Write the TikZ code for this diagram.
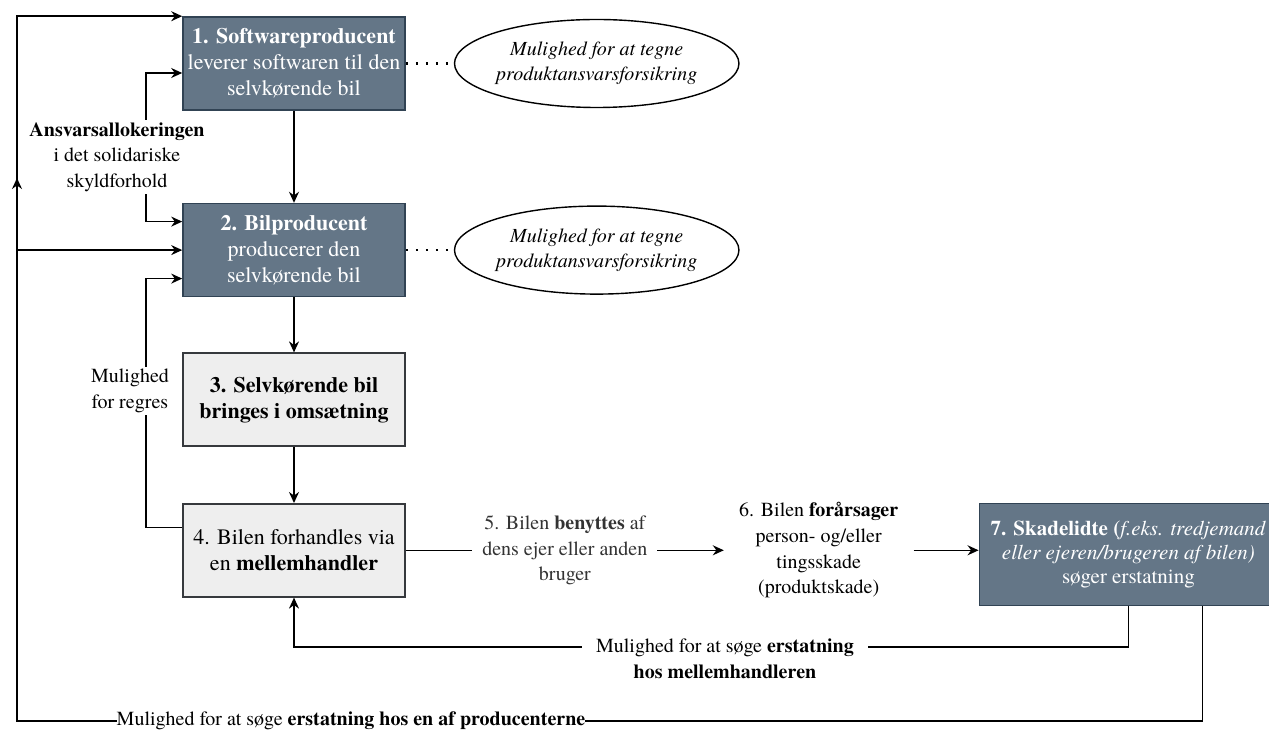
\documentclass[tikz,border=0pt]{standalone}
\usepackage{fontspec}
\setmainfont{texgyretermes}[Extension=.otf, UprightFont=*-regular, BoldFont=*-bold, ItalicFont=*-italic, BoldItalicFont=*-bolditalic]
\usetikzlibrary{shapes.geometric, arrows.meta, positioning, calc}

\definecolor{slatefill}{HTML}{647687}
\definecolor{slateline}{HTML}{314354}
\definecolor{greyfill}{HTML}{EEEEEE}
\definecolor{greyline}{HTML}{36393D}

\begin{document}
\begin{tikzpicture}[
    x=0.5pt, y=-0.5pt,
    font=\fontsize{10}{12.8}\selectfont,
    darkbox/.style={rectangle, draw=slateline, fill=slatefill, text=white, line width=0.8pt, minimum width=111pt, minimum height=46.5pt, align=center, inner sep=1pt, font=\fontsize{11}{13}\selectfont},
    lightbox/.style={rectangle, draw=greyline, fill=greyfill, line width=0.8pt, minimum width=111pt, minimum height=46.5pt, align=center, inner sep=1pt, font=\fontsize{11}{13}\selectfont},
    option/.style={ellipse, draw, line width=0.7pt, minimum width=127.5pt, minimum height=44pt, inner sep=0pt, align=center, font=\fontsize{10}{12.5}\selectfont\itshape},
    plain/.style={align=center, fill=white, inner sep=1pt},
    arrow/.style={-{Stealth[length=5.5pt, width=5pt]}, line width=0.75pt},
    dblarrow/.style={{Stealth[length=5.5pt, width=5pt]}-{Stealth[length=5.5pt, width=5pt]}, line width=0.75pt},
    dotline/.style={line width=1.3pt, dash pattern=on 1.3pt off 3.7pt}
]
\useasboundingbox (0,0) rectangle (1269,732);

% Actors and steps
\node[darkbox] (software) at (294,63.5) {\textbf{1. Softwareproducent}\\leverer softwaren til den\\selvkørende bil};
\node[darkbox, below=46pt of software] (bilprod) {\textbf{2. Bilproducent}\\producerer den\\selvkørende bil};
\node[lightbox, below=27.5pt of bilprod] (selvk) {\textbf{3. Selvkørende bil}\\\textbf{bringes i omsætning}};
\node[lightbox, below=28pt of selvk] (mellem) {4. Bilen forhandles via\\en \textbf{mellemhandler}};
\node[align=center, inner xsep=7.5pt, right=159pt of mellem] (skade) {6. Bilen \textbf{forårsager}\\person- og/eller\\tingsskade\\(produktskade)};
\node[darkbox, minimum width=149pt, minimum height=51pt, right=32.5pt of skade, yshift=-2pt, font=\fontsize{10.5}{12}\selectfont] (skadelidt) {\textbf{7. Skadelidte (}\textit{f.eks. tredjemand}\\\textit{eller ejeren/brugeren af bilen)}\\søger erstatning};

% Insurance options
\node[option, right=24pt of software] (insure1) {Mulighed for at tegne\\produktansvarsforsikring};
\node[option, right=24pt of bilprod] (insure2) {Mulighed for at tegne\\produktansvarsforsikring};

% Corners
\coordinate (outer) at (17,721);
\coordinate (upmark) at (17,178);
\coordinate (midcorner) at (294,647);

% Connectors
\draw[arrow] (software) -- (bilprod);
\draw[arrow] (bilprod) -- (selvk);
\draw[arrow] (selvk) -- (mellem);
\draw[dotline] (software.east) -- (insure1.west);
\draw[dotline] (bilprod.east) -- (insure2.west);
\draw[arrow] (mellem.east) -- node[plain, inner xsep=5pt, text=black!80] {5. Bilen \textbf{benyttes} af\\dens ejer eller anden\\bruger} (skade.west);
\draw[arrow] (skade.east) -- (skade.east -| skadelidt.west);
\draw[dblarrow] ($(software.west)+(0,9.5)$) -- ++(-36,0) |- ($(bilprod.west)+(0,-28.5)$);
\draw[arrow] ($(mellem.west)+(0,-23)$) -- ++(-36,0) |- ($(bilprod.west)+(0,28.5)$);
\draw[arrow] (skadelidt.south) |- (midcorner) -- (mellem.south);
\draw[arrow] ($(skadelidt.south)+(74,0)$) |- (outer) |- (software.north west);
\draw[arrow] (outer) -- (upmark);
\draw[arrow] (bilprod.west -| outer) -- (bilprod.west);

% Labels
\node[plain] (ansvar) at (117,157) {\textbf{Ansvarsallokeringen}\\i det solidariske\\skyldforhold};
\node[plain] (regres) at (130,391) {Mulighed\\for regres};
\node[plain, inner xsep=7pt] (mellemlabel) at (725,659) {Mulighed for at søge \textbf{erstatning}\\\textbf{hos mellemhandleren}};
\node[plain, inner sep=0pt] (prodlabel) at (351,721) {Mulighed for at søge \textbf{erstatning hos en af producenterne}};

\end{tikzpicture}
\end{document}
